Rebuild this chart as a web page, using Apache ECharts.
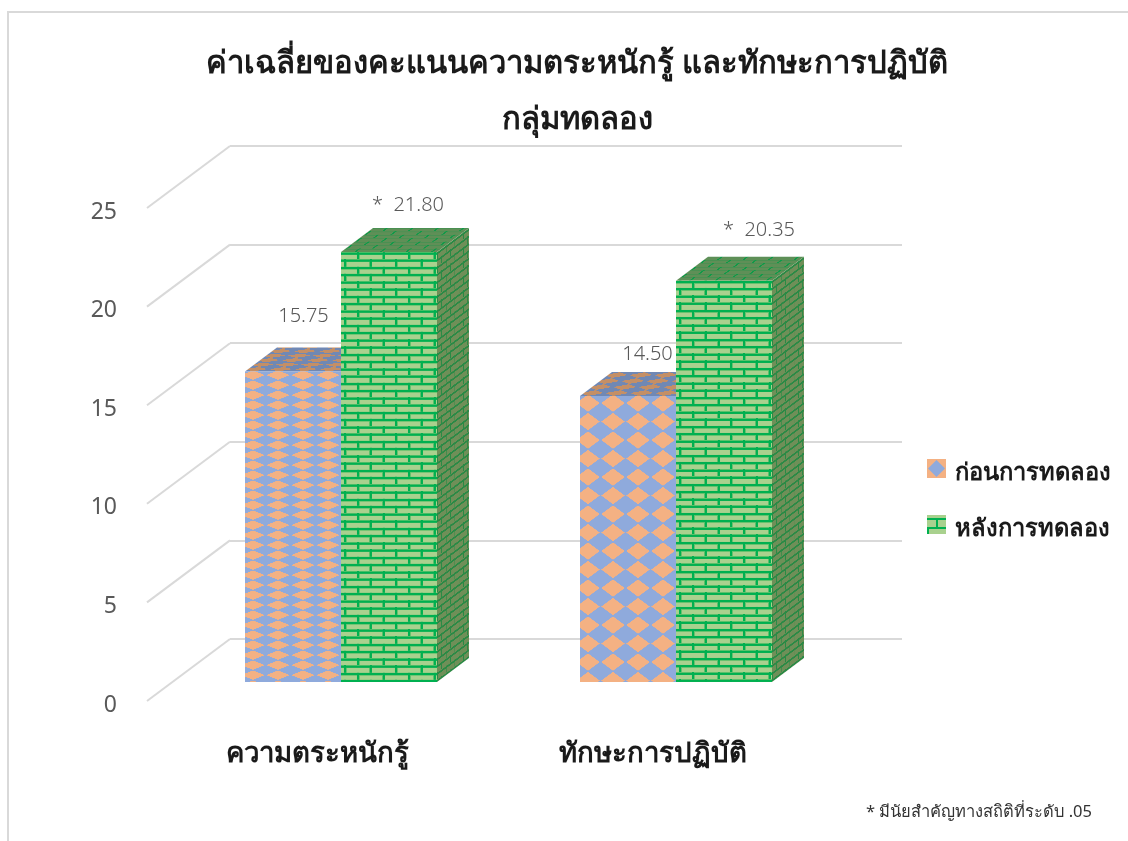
<!DOCTYPE html>
<html>
<head>
<meta charset="utf-8">
<title>chart</title>
<style>
  html, body { margin: 0; padding: 0; background: #fff; }
  #main { width: 1128px; height: 841px; }
</style>
</head>
<body>
<div id="main"></div>
<script src="https://cdn.jsdelivr.net/npm/echarts@6/dist/echarts.min.js"></script>
<script>
var categories = ['ความตระหนักรู้', 'ทักษะการปฏิบัติ']
var beforeName = 'ก่อนการทดลอง'
var afterName = 'หลังการทดลอง'
var beforeValues = [15.75, 14.5]
var afterValues = [21.8, 20.35]
var yTicks = [0, 5, 10, 15, 20, 25]

var titleText = 'ค่าเฉลี่ยของคะแนนความตระหนักรู้ และทักษะการปฏิบัติ\nกลุ่มทดลอง'
var noteText = '* มีนัยสำคัญทางสถิติที่ระดับ .05'

var FONT = '"Noto Sans", "Open Sans", sans-serif'
var BAR_W = 96
var DEPTH_X = 32
var DEPTH_Y = 24

function makeCanvas(w, h) {
  var c = document.createElement('canvas')
  c.width = w
  c.height = h
  return c
}

// diamond tile, scaled per bar
function diamondTile(bg, fg) {
  var c = makeCanvas(100, 100)
  var g = c.getContext('2d')
  g.fillStyle = bg
  g.fillRect(0, 0, 100, 100)
  g.fillStyle = fg
  g.beginPath()
  g.moveTo(50, 3)
  g.lineTo(97, 50)
  g.lineTo(50, 97)
  g.lineTo(3, 50)
  g.closePath()
  g.fill()
  return c
}

// 2x brick tile; lineColor is for the long courses, fg for the joints.
// halo softens the mortar edge
function brickTile(bg, fg, lineColor, halo) {
  var c = makeCanvas(51, 29)
  var g = c.getContext('2d')
  g.fillStyle = bg
  g.fillRect(0, 0, 51, 29)
  if (halo) {
    g.fillStyle = halo
    g.fillRect(0, 0, 51, 6)
    g.fillRect(0, 14, 51, 6)
    g.fillRect(0, 0, 6, 14)
    g.fillRect(25, 14, 6, 15)
  }
  g.fillStyle = lineColor || fg
  g.fillRect(0, 1, 51, 4)
  g.fillRect(0, 15, 51, 4)
  g.fillStyle = fg
  g.fillRect(1, 0, 4, 14)
  g.fillRect(26, 14, 4, 15)
  return c
}

var tiles = {
  blue: diamondTile('#8faadc', '#f4b183'),
  blueTop: diamondTile('#7088b4', '#c48f66'),
  green: brickTile('#a9d18e', '#00b050', null, '#62c26c'),
  greenSide: brickTile('#6f8f58', '#2a8a45'),
  greenTop: brickTile('#5f8f57', '#0f9a48', '#4a9052')
}

// swatches leave a strip below so they sit above the text centre
function swatchBefore() {
  var c = makeCanvas(19, 29)
  var g = c.getContext('2d')
  g.fillStyle = '#f4b183'
  g.fillRect(0, 0, 19, 19)
  g.fillStyle = '#8faadc'
  g.beginPath()
  g.moveTo(9.5, 1)
  g.lineTo(18, 9.5)
  g.lineTo(9.5, 18)
  g.lineTo(1, 9.5)
  g.closePath()
  g.fill()
  return 'image://' + c.toDataURL()
}

function swatchAfter() {
  var c = makeCanvas(19, 29)
  var g = c.getContext('2d')
  g.fillStyle = '#a9d18e'
  g.fillRect(0, 0, 19, 19)
  g.fillStyle = '#00b050'
  g.fillRect(0, 3, 19, 2)
  g.fillRect(0, 12, 19, 2)
  g.fillRect(9, 3, 2, 9)
  g.fillRect(0, 14, 2, 5)
  return 'image://' + c.toDataURL()
}

function pattern(tile, scaleX, scaleY, x, y) {
  return { image: tile, repeat: 'repeat', scaleX: scaleX, scaleY: scaleY, x: x, y: y }
}

// one cuboid per data point: front, side and top faces are skewed rects
function renderBar(seriesKind) {
  return function (params, api) {
    var i = params.dataIndex
    var value = api.value(1)
    var top = api.coord([i, value])
    var base = api.coord([i, 0])
    var left = seriesKind === 'before' ? top[0] - BAR_W : top[0]
    var h = base[1] - top[1]
    var front, side, topFace
    var skewSide = Math.atan(DEPTH_Y / DEPTH_X)
    var skewTop = -Math.atan(DEPTH_X / DEPTH_Y)

    if (seriesKind === 'before') {
      var row = i === 0 ? 10 : 18.5
      var yOff = i === 0 ? -1.3 : -2.25
      front = pattern(tiles.blue, 0.25, row / 100, -4.5, yOff)
      side = pattern(tiles.blueTop, 0.085, row / 100, 0, 0)
      topFace = pattern(tiles.blueTop, 0.25, (i === 0 ? 4.5 : 6) / 100, -4.5, 0)
    } else {
      front = pattern(tiles.green, 0.5, 0.5, 15.7 - 25.5, 0)
      side = pattern(tiles.greenSide, 0.17, 0.5, 0, 0)
      topFace = pattern(tiles.greenTop, 0.5, 0.24, 0, 0)
    }

    return {
      type: 'group',
      children: [
        {
          type: 'rect',
          x: left + BAR_W,
          y: top[1],
          skewY: skewSide,
          shape: { x: 0, y: 0, width: DEPTH_X, height: h },
          style: { fill: side }
        },
        {
          type: 'rect',
          x: left,
          y: top[1],
          skewX: skewTop,
          shape: { x: 0, y: -DEPTH_Y, width: BAR_W, height: DEPTH_Y },
          style: { fill: topFace }
        },
        {
          type: 'rect',
          x: left,
          y: top[1],
          shape: { x: 0, y: 0, width: BAR_W, height: h },
          style: { fill: front }
        }
      ]
    }
  }
}

function renderWall(params, api) {
  var p = api.coord([0, api.value(0)])
  return {
    type: 'line',
    shape: { x1: p[0], y1: p[1], x2: p[0] - 83, y2: p[1] + 62 },
    style: { stroke: '#d9d9d9', lineWidth: 2 }
  }
}

// label offsets from the bar's front top corner
var labelStyle = { fontFamily: FONT, fontSize: 20, fontWeight: 300, fill: '#595959' }
function renderLabels(kind) {
  var offs = kind === 'before' ? [[58.5, -55], [67.5, -42]] : [[67, -47], [83, -50]]
  return function (params, api) {
    var i = params.dataIndex
    var v = api.value(1)
    var p = api.coord([i, v])
    var left = kind === 'before' ? p[0] - BAR_W : p[0]
    var txt = (kind === 'after' ? '*  ' : '') + v.toFixed(2)
    return {
      type: 'text',
      x: left + offs[i][0],
      y: p[1] + offs[i][1],
      style: Object.assign({ text: txt, align: 'center', verticalAlign: 'middle' }, labelStyle)
    }
  }
}

function barData(values) {
  return values.map(function (v, i) { return [i, v] })
}

var chart = echarts.init(document.getElementById('main'))
chart.setOption({
  animation: false,
  backgroundColor: '#fff',
  title: {
    text: titleText,
    left: 572,
    top: 31,
    textAlign: 'center',
    textStyle: { fontFamily: FONT, fontSize: 31, fontWeight: 600, color: '#1a1a1a', lineHeight: 56 }
  },
  legend: {
    orient: 'vertical',
    left: 922,
    top: 454,
    itemWidth: 19,
    itemHeight: 29,
    itemGap: 27,
    selectedMode: false,
    textStyle: { fontFamily: FONT, fontSize: 23.7, fontWeight: 600, color: '#1a1a1a', padding: [0, 0, 0, 4] },
    data: [
      { name: beforeName, icon: swatchBefore() },
      { name: afterName, icon: swatchAfter() }
    ]
  },
  graphic: [
    {
      type: 'rect',
      silent: true,
      z: -1,
      shape: { x: 8, y: 12, width: 1300, height: 1000 },
      style: { fill: 'none', stroke: '#d9d9d9', lineWidth: 2 }
    },
    {
      type: 'text',
      right: 36,
      top: 804,
      style: { text: noteText, fontFamily: FONT, fontSize: 16.5, fill: '#333' }
    }
  ],
  grid: [
    // plane of the bars
    { left: 173.5, top: 189, width: 670, height: 493 },
    // back wall
    { left: 230, top: 146, width: 672, height: 493 },
    // front edge, carries the labels
    { left: 147, top: 212, width: 672, height: 493 }
  ],
  xAxis: [
    { gridIndex: 0, type: 'category', data: categories, show: false },
    { gridIndex: 1, type: 'value', min: 0, max: 1, show: false },
    {
      gridIndex: 2,
      type: 'category',
      data: categories,
      axisLine: { show: false },
      axisTick: { show: false },
      axisLabel: { margin: 35, padding: [0, 0, 0, 4], fontFamily: FONT, fontSize: 27.6, fontWeight: 600, color: '#1a1a1a' }
    }
  ],
  yAxis: [
    { gridIndex: 0, type: 'value', min: 0, max: 25, show: false },
    {
      gridIndex: 1,
      type: 'value',
      min: 0,
      max: 25,
      interval: 5,
      axisLine: { show: false },
      axisTick: { show: false },
      axisLabel: { show: false },
      splitLine: { show: true, lineStyle: { color: '#d9d9d9', width: 2 } }
    },
    {
      gridIndex: 2,
      type: 'value',
      min: 0,
      max: 25,
      interval: 5,
      axisLine: { show: false },
      axisTick: { show: false },
      splitLine: { show: false },
      axisLabel: { margin: 30, fontFamily: FONT, fontSize: 23, color: '#595959' }
    }
  ],
  series: [
    {
      type: 'custom',
      xAxisIndex: 1,
      yAxisIndex: 1,
      silent: true,
      renderItem: renderWall,
      encode: { y: 0 },
      data: yTicks.map(function (v) { return [v] })
    },
    {
      name: beforeName,
      type: 'custom',
      xAxisIndex: 0,
      yAxisIndex: 0,
      renderItem: renderBar('before'),
      encode: { x: 0, y: 1 },
      data: barData(beforeValues)
    },
    {
      name: afterName,
      type: 'custom',
      xAxisIndex: 0,
      yAxisIndex: 0,
      renderItem: renderBar('after'),
      encode: { x: 0, y: 1 },
      data: barData(afterValues)
    },
    {
      type: 'custom',
      xAxisIndex: 0,
      yAxisIndex: 0,
      silent: true,
      renderItem: renderLabels('before'),
      encode: { x: 0, y: 1 },
      data: barData(beforeValues)
    },
    {
      type: 'custom',
      xAxisIndex: 0,
      yAxisIndex: 0,
      silent: true,
      renderItem: renderLabels('after'),
      encode: { x: 0, y: 1 },
      data: barData(afterValues)
    }
  ]
})
</script>
</body>
</html>
